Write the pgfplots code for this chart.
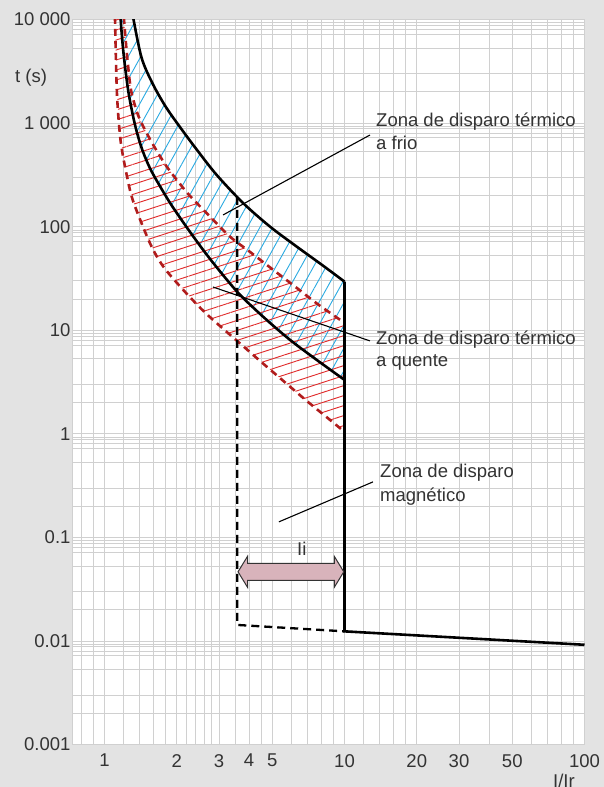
\documentclass[border=0pt]{standalone}
\usepackage{pgfplots}
\pgfplotsset{compat=1.18}
\usetikzlibrary{patterns.meta,calc}
\usepackage{fontspec}
\setmainfont{Liberation Sans}
\definecolor{bggray}{HTML}{E3E3E3}
\definecolor{gridgray}{HTML}{D0D0D0}
\definecolor{txt}{HTML}{333333}
\definecolor{hotred}{HTML}{B01C1C}
\definecolor{hatchred}{HTML}{E02A2A}
\definecolor{hatchblue}{HTML}{2AAAE2}
\definecolor{arrowfill}{HTML}{D8B3BB}
\begin{document}
\begin{tikzpicture}
\fill[bggray] (0,0) rectangle (604pt,787pt);
\path[use as bounding box] (0,0) rectangle (604pt,787pt);
\begin{axis}[
  at={(73pt,42.4pt)}, anchor=south west,
  scale only axis, width=511.5pt, height=725pt,
  xmode=log, ymode=log,
  xmin=0.739, xmax=100, ymin=0.001, ymax=10000,
  axis background/.style={fill=white},
  axis line style={gridgray, line width=1pt},
  xtick={1,2,3,4,5,10,20,30,50,100},
  xticklabels={1,2,3,4,5,10,20,30,50,100},
  minor xtick={0.8,0.9,1.2,1.4,1.6,1.8,2.2,2.4,2.6,2.8,3.5,4.5,6,7,8,9,12,14,16,18,40,60,70,80,90},
  ytick={0.001,0.01,0.1,1,10,100,1000,10000},
  yticklabels={0.001,0.01,0.1,1,10,100,1~000,10~000},
  minor ytick={0.002,0.003,0.0053,0.0072,0.008,0.0088,0.0093,
    0.02,0.03,0.053,0.072,0.08,0.088,0.093,
    0.2,0.3,0.53,0.72,0.8,0.88,0.93,
    2,3,5.3,7.2,8,8.8,9.3,
    20,30,53,72,80,88,93,
    200,300,530,720,800,880,930,
    2000,3000,5300,7200,8000,8800,9300},
  grid=both,
  major grid style={gridgray, line width=1pt},
  minor grid style={gridgray, line width=1pt},
  major tick length=0pt, minor tick length=0pt,
  tick label style={font=\fontsize{18.5}{21}\selectfont, text=txt},
  yticklabel style={xshift=1pt},
  xticklabel style={yshift=-6pt},
  clip=true,
]
% cold zone hatch (blue)
\addplot[draw=none, pattern={Lines[angle=61,distance=11pt,line width=0.9pt]}, pattern color=hatchblue]
coordinates {(1.296,13840) (1.318,10292) (1.429,4231) (1.597,2337) (1.816,1393) (2.130,828) (2.429,551) (2.934,316) (3.787,168.6) (4.894,100.2) (6.321,64.3) (8.159,41.9) (10,29.5)
 (10,3.32) (7.66,5.18) (5.93,8.08) (4.589,13.47) (3.575,23.5) (2.752,48.9) (2.271,89.1) (1.911,158.8) (1.719,236.9) (1.547,367) (1.429,572.4) (1.340,960.7) (1.257,2014) (1.198,4898) (1.168,9910) (1.164,13840)} -- cycle;
% hot zone hatch (red)
\addplot[draw=none, pattern={Lines[angle=18,distance=9.5pt,line width=0.9pt]}, pattern color=hatchred]
coordinates {(1.101,13840) (1.106,9910) (1.117,3646) (1.131,1613) (1.168,662.8) (1.237,316.2) (1.318,174.7) (1.547,69.3) (1.758,41.2) (2.130,24.5) (2.581,15.39) (3.126,10.31) (3.669,7.475) (4.446,5.066) (5.559,3.248) (6.96,2.082) (8.70,1.365) (10,1.045)
 (10,11.79) (7.66,18.2) (6.321,25.7) (4.894,40.5) (4.04,57.1) (3.333,80.2) (2.752,125.2) (2.271,198.3) (2.063,258.9) (1.821,377.8) (1.623,576.3) (1.475,860) (1.379,1200) (1.289,2092) (1.241,4552) (1.206,9910) (1.200,13840)} -- cycle;
% hot curves (red dashed)
\addplot[hotred, line width=2.6pt, dash pattern=on 7pt off 5pt, smooth, tension=0.5]
coordinates {(1.101,13840) (1.106,9910) (1.117,3646) (1.131,1613) (1.168,662.8) (1.237,316.2) (1.318,174.7) (1.547,69.3) (1.758,41.2) (2.130,24.5) (2.581,15.39) (3.126,10.31) (3.669,7.475) (4.446,5.066) (5.559,3.248) (6.96,2.082) (8.70,1.365) (10,1.045)};
\addplot[hotred, line width=2.6pt, dash pattern=on 7pt off 5pt, smooth, tension=0.5]
coordinates {(1.200,13840) (1.206,9910) (1.241,4552) (1.289,2092) (1.379,1200) (1.475,860) (1.623,576.3) (1.821,377.8) (2.063,258.9) (2.271,198.3) (2.752,125.2) (3.333,80.2) (4.04,57.1) (4.894,40.5) (6.321,25.7) (7.66,18.2) (10,11.79)};
% cold curves (black)
\addplot[black, line width=2.6pt, smooth, tension=0.5]
coordinates {(1.296,13840) (1.318,10292) (1.429,4231) (1.597,2337) (1.816,1393) (2.130,828) (2.429,551) (2.934,316) (3.787,168.6) (4.894,100.2) (6.321,64.3) (8.159,41.9) (10,29.5)};
\addplot[black, line width=2.6pt, smooth, tension=0.5]
coordinates {(1.164,13840) (1.168,9910) (1.198,4898) (1.257,2014) (1.340,960.7) (1.429,572.4) (1.547,367) (1.719,236.9) (1.911,158.8) (2.271,89.1) (2.752,48.9) (3.575,23.5) (4.589,13.47) (5.93,8.08) (7.66,5.18) (10,3.32)};
% magnetic
\addplot[black, line width=2.6pt, line join=miter] coordinates {(10,29.5) (10,0.0124) (100,0.0092)};
\addplot[black, line width=2.3pt, dash pattern=on 8pt off 5pt] coordinates {(3.575,194) (3.575,0.0143) (10,0.0124)};
% leader lines
\draw[black, line width=1.1pt] (axis cs:3.118,130) -- (axis cs:12.77,769);
\draw[black, line width=1.1pt] (axis cs:2.83,26.2) -- (axis cs:12.77,7.9);
\draw[black, line width=1.1pt] (axis cs:5.33,0.1415) -- (axis cs:13.14,0.344);
% Ii arrow
\coordinate (L) at (axis cs:3.6,0.0466);
\coordinate (R) at (axis cs:9.93,0.0466);
\draw[fill=arrowfill, draw=black!80, line width=1pt, line join=miter]
 (L) -- ($(L)+(9.5pt,15.5pt)$) -- ($(L)+(9.5pt,8.5pt)$) -- ($(R)+(-9.5pt,8.5pt)$) -- ($(R)+(-9.5pt,15.5pt)$) -- (R)
 -- ($(R)+(-9.5pt,-15.5pt)$) -- ($(R)+(-9.5pt,-8.5pt)$) -- ($(L)+(9.5pt,-8.5pt)$) -- ($(L)+(9.5pt,-15.5pt)$) -- cycle;
\end{axis}
\begin{scope}[every node/.style={inner sep=0pt, text=txt, font=\fontsize{18.5}{21}\selectfont}]
\node[anchor=base west] at (376pt,660.5pt) {Zona de disparo térmico};
\node[anchor=base west] at (376pt,637.5pt) {a frio};
\node[anchor=base west] at (376pt,442pt) {Zona de disparo térmico};
\node[anchor=base west] at (376pt,420pt) {a quente};
\node[anchor=base west] at (380pt,309pt) {Zona de disparo};
\node[anchor=base west] at (380pt,285.5pt) {magnético};
\node[anchor=base west] at (297pt,231pt) {Ii};
\node[anchor=base west] at (15pt,704pt) {t (s)};
\node[anchor=base west] at (553pt,0pt) {I/Ir};
\end{scope}
\end{tikzpicture}
\end{document}
